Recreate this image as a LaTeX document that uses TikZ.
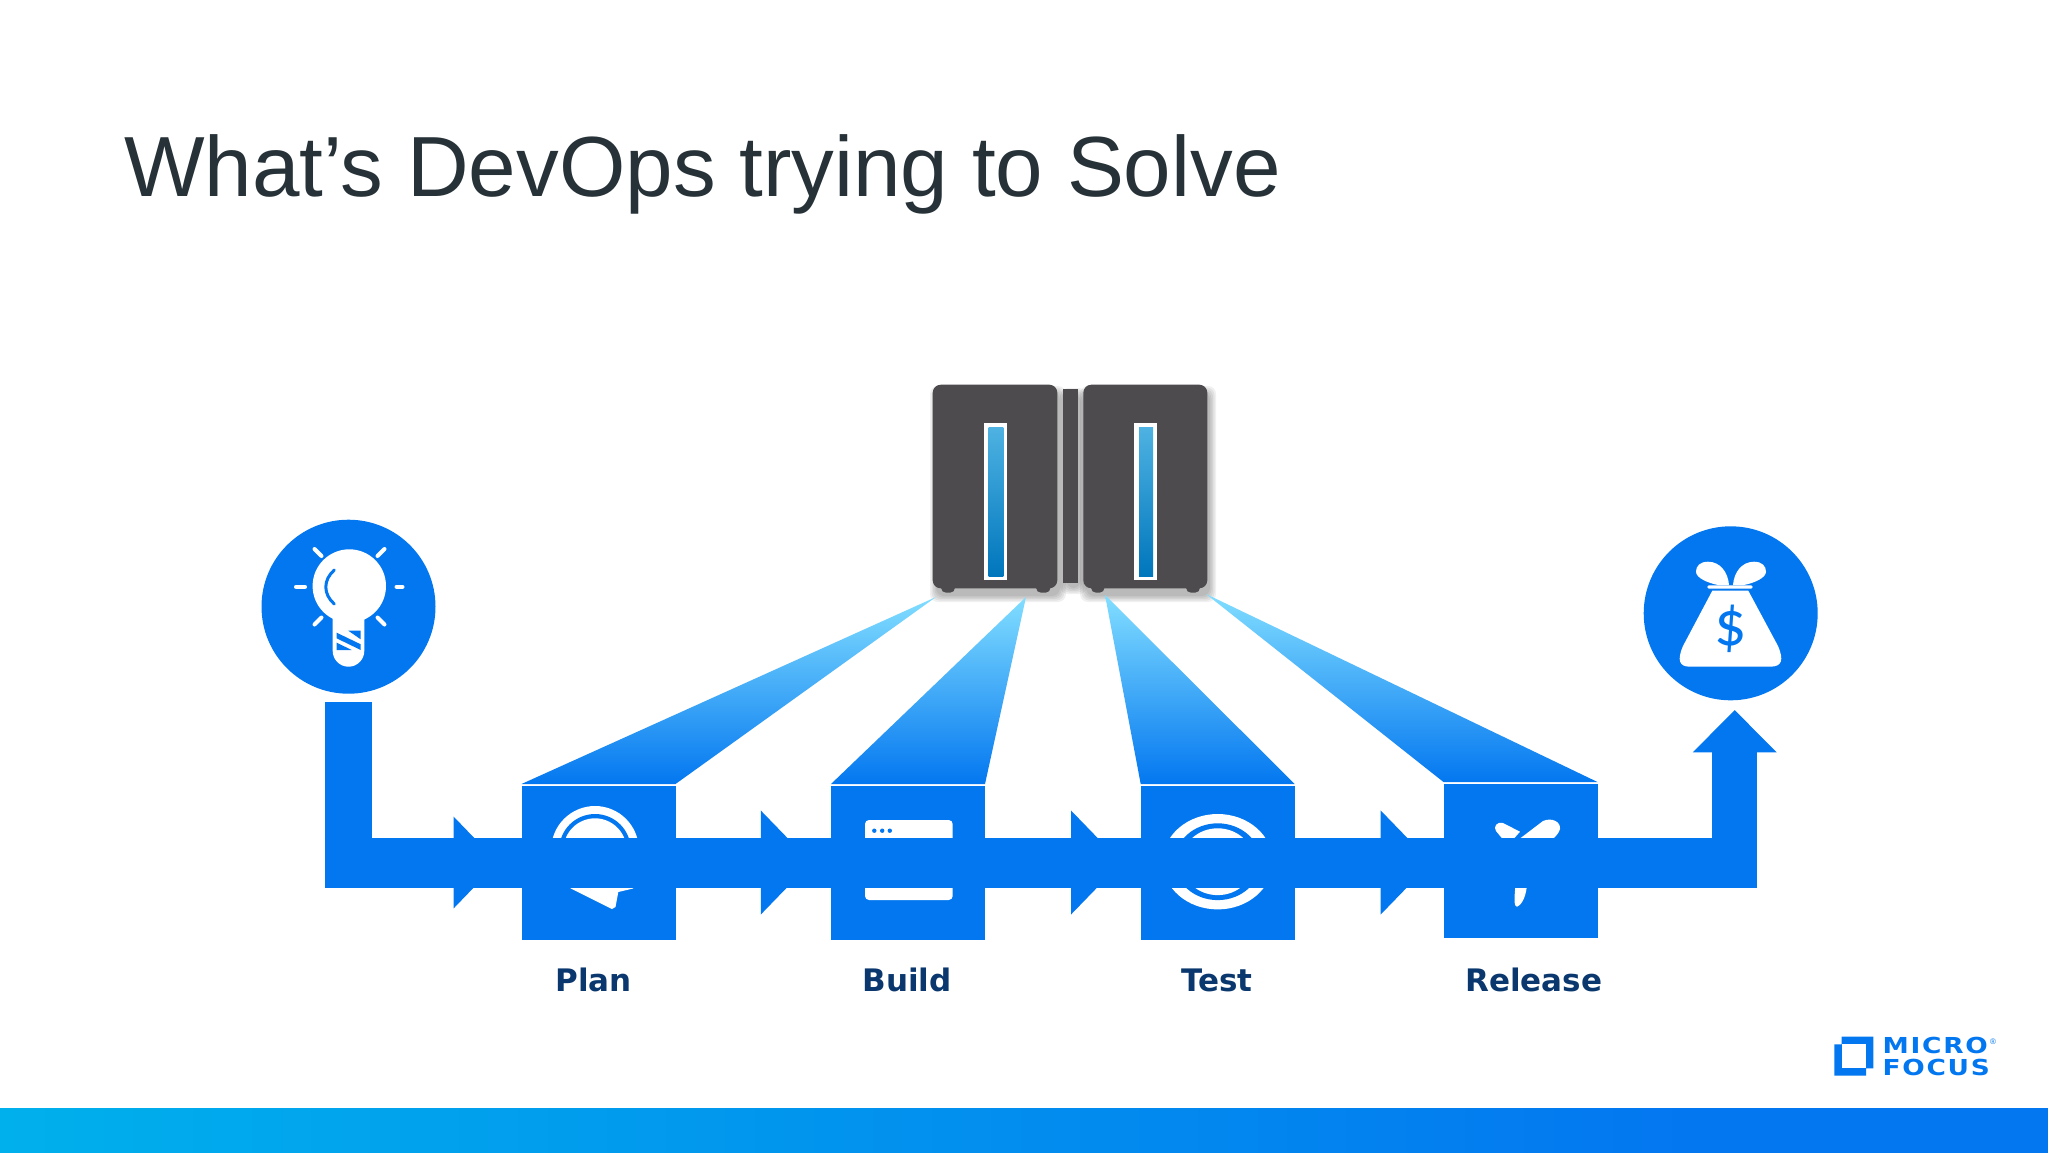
\documentclass[tikz,border=0pt]{standalone}
\usepackage{fontspec}
\setmainfont{Liberation Sans}
\newfontfamily\labelfont{DejaVu Sans}
\newfontfamily\logofont[FakeStretch=1.2, LetterSpace=8]{DejaVu Sans}
\newfontfamily\dollarfont{Carlito}
\definecolor{flowblue}{RGB}{3, 119, 240}
\definecolor{beamtop}{RGB}{130, 222, 255}
\definecolor{beammid}{RGB}{70, 160, 255}
\definecolor{titlegrey}{RGB}{38, 50, 56}
\definecolor{labelnavy}{RGB}{10, 56, 110}
\definecolor{servergrey}{RGB}{77, 75, 78}
\definecolor{slottop}{RGB}{78, 178, 226}
\definecolor{slotbottom}{RGB}{0, 118, 188}
\definecolor{bandleft}{RGB}{0, 176, 236}
\usetikzlibrary{arrows.meta}
\tikzset{
  stagebox/.style={fill=flowblue, minimum size=154pt, inner sep=0pt, outer sep=0pt},
  endcircle/.style={circle, fill=flowblue, minimum size=174pt, inner sep=0pt, outer sep=0pt},
  serverbox/.style={fill=servergrey, rounded corners=8pt, inner sep=0pt, outer sep=0pt},
  softshadow/.style={fill=black, opacity=.06, rounded corners=8pt},
  flowbar/.style={draw=flowblue, line width=50pt, line cap=butt},
  beamfill/.style={top color=beamtop, middle color=beammid, bottom color=flowblue},
  stagelabel/.style={anchor=base, text=labelnavy, font=\labelfont\bfseries\fontsize{31}{36}\selectfont},
  logotext/.style={anchor=base west, text=flowblue, inner sep=0pt, font=\logofont\bfseries\fontsize{22}{22}\selectfont},
  bulbray/.style={draw=white, line width=4pt, line cap=round}
}

\begin{document}
\begin{tikzpicture}[x=1pt, y=-1pt]
  \useasboundingbox (0,0) rectangle (2048,1152);
  \fill[white] (0,0) rectangle (2048,1152);

  \node[anchor=base west, inner sep=0pt, text=titlegrey, font=\fontsize{85.4}{100}\selectfont] (title) at (124,196) {What’s DevOps trying to Solve};

  % Servers
  \foreach \spread in {0,1.5,3,4.5,6} {
    \fill[softshadow] (936-\spread,392-\spread) rectangle (1060+\spread,596+\spread);
    \fill[softshadow] (1066-\spread,394-\spread) rectangle (1081+\spread,588+\spread);
    \fill[softshadow] (1086-\spread,392-\spread) rectangle (1210+\spread,596+\spread);
  }
  \fill[servergrey, rounded corners=5pt] (941,580) rectangle (955,592.7);
  \fill[servergrey, rounded corners=5pt] (1036,580) rectangle (1050.5,592.7);
  \fill[servergrey, rounded corners=5pt] (1091,580) rectangle (1104.5,592.7);
  \fill[servergrey, rounded corners=5pt] (1186,580) rectangle (1200,592.7);
  \node[serverbox, minimum width=124.6pt, minimum height=203.6pt] (serverleft) at (995,486.5) {};
  \node[serverbox, rounded corners=0pt, minimum width=15pt, minimum height=193.7pt] (serverlink) at (1070.8,485.9) {};
  \node[serverbox, minimum width=124pt, minimum height=203.6pt] (serverright) at (1145.3,486.5) {};
  \fill[white] (984,423.3) rectangle (1007.3,580);
  \shade[top color=slottop, bottom color=slotbottom] (988.7,427.3) rectangle (1003.3,576);
  \fill[white] (1134,423.3) rectangle (1157.3,580);
  \shade[top color=slottop, bottom color=slotbottom] (1139,427.3) rectangle (1153,576);

  % Stages
  \node[stagebox] (plan) at (598.5,862.5) {};
  \node[stagebox] (build) at (908,862.5) {};
  \node[stagebox] (test) at (1217.7,862.5) {};
  \node[stagebox] (release) at (1520.5,860.5) {};
  \coordinate (releasemid) at (plan -| release);

  % Beams
  \coordinate (tapa) at (936,597);
  \coordinate (tapb) at (1026,597);
  \coordinate (tapc) at (1105,595);
  \coordinate (tapd) at (1206,594);
  \shade[beamfill] (tapa) -- ([yshift=1.5pt]plan.north west) -- ([yshift=1.5pt]plan.north east) -- cycle;
  \shade[beamfill] (tapb) -- ([yshift=1.5pt]build.north west) -- ([yshift=1.5pt]build.north east) -- cycle;
  \shade[beamfill] (tapc) -- ([yshift=1.5pt]test.north west) -- ([yshift=1.5pt]test.north east) -- cycle;
  \shade[beamfill] (tapd) -- ([yshift=1.5pt]release.north west) -- ([yshift=1.5pt]release.north east) -- cycle;

  % Idea
  \node[endcircle] (idea) at (348.5,606.7) {};
  \fill[white] (349.3,586) circle[radius=36.7pt];
  \fill[white, rounded corners=15.8pt] (332.7,590) rectangle (364.3,666.7);
  \draw[flowblue, line width=3pt, line cap=round] (334.3,570) .. controls (323,580) and (323,594) .. (334.3,604);
  \fill[flowblue] (348.3,630.7) -- (360.7,630.7) -- (360.7,639.3) -- cycle;
  \fill[flowblue] (336.7,632.7) -- (360.7,644.3) -- (360.7,650) -- (336.7,638.3) -- cycle;
  \fill[flowblue] (336.7,642.7) -- (351.7,650) -- (336.7,650) -- cycle;
  \draw[bulbray] (296,586.7) -- (305,586.7);
  \draw[bulbray] (396.5,586.7) -- (402.5,586.7);
  \draw[bulbray] (314.5,549) -- (321.5,556);
  \draw[bulbray] (384.5,549) -- (377.5,556);
  \draw[bulbray] (321.5,617.5) -- (314.5,624.5);
  \draw[bulbray] (377.5,617.5) -- (384.5,624.5);

  % Payoff
  \node[endcircle] (payoff) at (1730.7,613.3) {};
  \fill[white] (1712.3,590.7) -- (1748.3,590.7) -- (1778,646) .. controls (1784,660) and (1782,666.7) .. (1770,666.7) -- (1690,666.7) .. controls (1679,666.7) and (1677,660) .. (1683,646) -- cycle;
  \fill[white, rounded corners=1.5pt] (1707.3,585.3) rectangle (1752.7,588.7);
  \fill[white] (1729,585) .. controls (1728,572) and (1720,561.7) .. (1708,561.7) .. controls (1700,561.7) and (1696,566) .. (1696,571.7) .. controls (1696,578) and (1708,583) .. (1718,585) -- cycle;
  \fill[white] (1733,585) .. controls (1734,572) and (1742,561.7) .. (1754,561.7) .. controls (1762,561.7) and (1766,566) .. (1766,571.7) .. controls (1766,578) and (1754,583) .. (1744,585) -- cycle;
  \node[inner sep=0pt, text=flowblue, font=\dollarfont\fontsize{64}{66}\selectfont] (dollar) at (1730.7,629.3) {\$};

  % Stage icons, the bar runs over them
  \fill[white] (595,849.8) circle[radius=43.8pt];
  \fill[flowblue] (595,849.8) circle[radius=35.8pt];
  \fill[white] (595,849.8) circle[radius=31.5pt];
  \fill[white] (568,886) -- (635,886) -- (633,888.5) -- (618.3,892) -- (615.5,907) -- (612,909) -- (571,888.5) -- cycle;

  \fill[white, rounded corners=4pt] (865,820) rectangle (952.7,900);
  \fill[flowblue] (874.3,830.7) circle[radius=2.2pt];
  \fill[flowblue] (882.2,830.7) circle[radius=2.2pt];
  \fill[flowblue] (889.8,830.7) circle[radius=2.2pt];

  \fill[white] (1217.7,861.7) ellipse[x radius=55pt, y radius=47.7pt];
  \fill[flowblue] (1217.7,861.7) ellipse[x radius=43pt, y radius=38.4pt];
  \fill[white] (1217.7,861.7) ellipse[x radius=36.2pt, y radius=33.4pt];

  \fill[white] (1520,831.7) -- (1503,823) .. controls (1497,821) and (1493,827) .. (1496,831) -- (1505,842) -- (1511,842) -- cycle;
  \fill[white] (1518,840) -- (1543,821) .. controls (1552,817) and (1561,822) .. (1560,829) .. controls (1559,833) and (1556,836) .. (1552,840) -- cycle;
  \fill[white] (1515.5,885) -- (1527,885) .. controls (1526,895) and (1523,904) .. (1517,906.7) .. controls (1514,906.5) and (1514,900) .. (1515.5,885) -- cycle;

  % Flow
  \coordinate (turnin) at (idea |- plan);
  \coordinate (turnout) at (1734.7,862.5);
  \coordinate (tipa) at (498,862.5);
  \coordinate (tipb) at (811.3,862.5);
  \coordinate (tipc) at (1121.5,862.5);
  \coordinate (tipd) at (1431.2,862.5);
  \coordinate (tipout) at (1734.7,710);
  \draw[flowbar, line width=47.6pt, shorten <=8.6pt] (idea.south) -- (turnin);
  \draw[flowbar, shorten <=-23.8pt] (turnin) -- (plan.center);
  \draw[flowbar] (plan.center) -- (build.center);
  \draw[flowbar] (build.center) -- (test.center);
  \draw[flowbar] (test.center) -- (releasemid);
  \draw[flowbar, shorten >=-22.3pt] (releasemid) -- (turnout);
  \draw[flowbar, line width=44.7pt, shorten <=-25pt, -{Triangle[length=42.3pt, width=81.3pt]}] (turnout) -- (tipout);
  \draw[flowbar, -{Triangle[length=44.3pt, width=89pt]}] (turnin) -- (tipa);
  \draw[flowbar, -{Triangle[length=50.5pt, width=101pt]}] (plan.center) -- (tipb);
  \draw[flowbar, -{Triangle[length=50.5pt, width=101pt]}] (build.center) -- (tipc);
  \draw[flowbar, -{Triangle[length=50.5pt, width=101pt]}] (test.center) -- (tipd);

  % Labels
  \node[stagelabel] (planlabel) at (593.6,991.7) {Plan};
  \node[stagelabel] (buildlabel) at (907,991.7) {Build};
  \node[stagelabel] (testlabel) at (1217,991.7) {Test};
  \node[stagelabel] (releaselabel) at (1533.7,991.7) {Release};

  % Logo and band
  \fill[flowblue] (1841.7,1036.7) -- (1873.3,1036.7) -- (1873.3,1068.3) -- (1866,1068.3) -- (1866,1075.7) -- (1834.3,1075.7) -- (1834.3,1044.3) -- (1841.7,1044.3) -- cycle;
  \fill[white] (1841.7,1044.3) rectangle (1866,1068.3);
  \node[logotext] (logomicro) at (1882.3,1053.3) {MICRO};
  \node[logotext] (logofocus) at (1882.3,1075) {FOCUS};
  \node[anchor=base west, inner sep=0pt, text=flowblue, font=\fontsize{8}{8}\selectfont] (logomark) at (1990,1044) {®};
  \shade[left color=bandleft, right color=flowblue] (0,1108) rectangle (1686,1154);
  \fill[flowblue] (1685,1108) rectangle (2050,1154);
\end{tikzpicture}
\end{document}
